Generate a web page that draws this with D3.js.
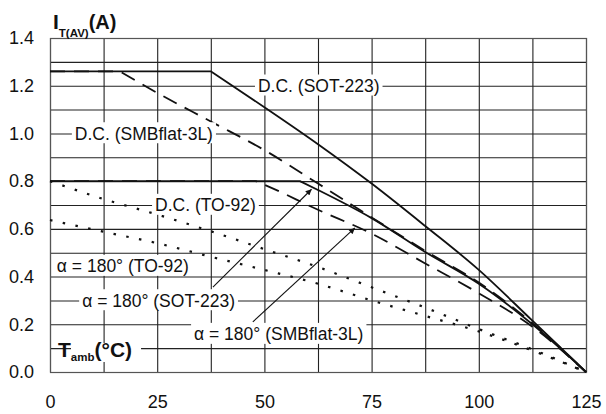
<!DOCTYPE html>
<html><head><meta charset="utf-8">
<script src="https://cdn.jsdelivr.net/npm/d3@7"></script>
<style>
body{margin:0;background:#fff}
svg{display:block}
text{font-family:"Liberation Sans",Arial,Helvetica,sans-serif;fill:#111}
</style>
</head><body>
<svg id="c" width="606" height="414"></svg>
<script>
// ---------- data ----------
const temps = [0, 12.5, 25, 37.5, 50, 62.5, 75, 87.5, 100, 112.5, 125];

const dcSot223X = [0, 37.5, 50, 62.5, 75, 87.5, 100, 112.5, 125];
const dcSot223Y = [1.26, 1.26, 1.11, 0.955, 0.79, 0.612, 0.428, 0.215, 0];

const dcSmbX = [0, 16.3, 25, 37.5, 50, 62.5, 75, 87.5, 100, 112.5, 125];
const dcSmbY = [1.26, 1.26, 1.17, 1.05, 0.93, 0.79, 0.648, 0.508, 0.375, 0.205, 0];

const dcTo92Y   = [0.80, 0.725, 0.66, 0.59, 0.515, 0.44, 0.355, 0.27, 0.18, 0.095, 0];
const a180To92Y = [0.637, 0.588, 0.54, 0.483, 0.428, 0.37, 0.30, 0.235, 0.17, 0.09, 0];

const a180SotX = [0, 58.3, 62.5, 75, 87.5, 100, 112.5, 125];
const a180SotY = [0.8, 0.8, 0.763, 0.645, 0.503, 0.37, 0.2, 0];

const a180SmbX = [0, 48, 50, 62.5, 75, 87.5, 100, 112.5, 125];
const a180SmbY = [0.8, 0.8, 0.785, 0.68, 0.58, 0.455, 0.33, 0.19, 0];

const xTickLabels = [0, 25, 50, 75, 100, 125];
const yTickLabels = [0, 0.2, 0.4, 0.6, 0.8, 1.0, 1.2, 1.4];
const xGridVals = d3.range(0, 125.001, 12.5);
const yGridVals = d3.range(0, 1.4001, 0.1);

// curve labels: text, left x (°C), cap-centre y (A)
const labelTexts = ["D.C. (SOT-223)", "D.C. (SMBflat-3L)", "D.C. (TO-92)",
                    "\u03B1 = 180\u00B0 (TO-92)", "\u03B1 = 180\u00B0 (SOT-223)", "\u03B1 = 180\u00B0 (SMBflat-3L)"];
const labelX = [48.5, 5.8, 24.5, 1.6, 7.5, 33.6];
const labelY = [1.2, 1.0, 0.7, 0.444, 0.3, 0.159];

// arrows: from (x,y) to (x,y) in data units
const arrowFromX = [38, 47.3];
const arrowFromY = [0.356, 0.21];
const arrowToX = [61.0, 71.1];
const arrowToY = [0.766, 0.604];

// ---------- chart ----------
const svg = d3.select("#c");
const x = d3.scaleLinear().domain([0, 125]).range([50, 586]);
const y = d3.scaleLinear().domain([0, 1.4]).range([372, 38]);
const W = x.range()[1] - x.range()[0];
const H = y.range()[0] - y.range()[1];

const defs = svg.append("defs");
defs.append("marker").attr("id", "ah").attr("viewBox", "0 0 10 10")
  .attr("refX", 10).attr("refY", 5).attr("markerWidth", 9).attr("markerHeight", 6)
  .attr("markerUnits", "userSpaceOnUse").attr("orient", "auto")
  .append("path").attr("d", "M0,0L10,5L0,10z").attr("fill", "#111");

// grid via axes
const gx = svg.append("g").attr("transform", `translate(0,${y(0)})`)
  .call(d3.axisBottom(x).tickValues(xGridVals).tickSize(-H).tickFormat(""));
const gy = svg.append("g").attr("transform", `translate(${x(0)},0)`)
  .call(d3.axisLeft(y).tickValues(yGridVals).tickSize(-W).tickFormat(""));
[gx, gy].forEach(g => {
  g.select(".domain").remove();
  g.selectAll("line").attr("stroke", "#222").attr("stroke-width", 1.1);
});
svg.append("rect").attr("x", x(0) + 0.5).attr("y", y(1.4) + 0.5)
  .attr("width", W).attr("height", H)
  .attr("fill", "none").attr("stroke", "#555").attr("stroke-width", 1.2);

// tick labels
const lx = svg.append("g").attr("transform", `translate(0,${y(0)})`)
  .call(d3.axisBottom(x).tickValues(xTickLabels).tickSize(0).tickPadding(23));
const ly = svg.append("g").attr("transform", `translate(${x(0)},0)`)
  .call(d3.axisLeft(y).tickValues(yTickLabels).tickSize(0).tickPadding(16).tickFormat(d3.format(".1f")));
[lx, ly].forEach(g => {
  g.select(".domain").remove();
  g.selectAll("text").attr("font-size", 18).attr("fill", "#111")
    .attr("font-family", "'Liberation Sans',Arial,sans-serif");
});

// series
const series = [
  {xs: dcSot223X, ys: dcSot223Y, dash: null, w: 1.8},
  {xs: a180SotX, ys: a180SotY, dash: null, w: 1.8},
  {xs: dcSmbX, ys: dcSmbY, dash: "15,9", w: 1.8},
  {xs: a180SmbX, ys: a180SmbY, dash: "15,9", w: 1.8},
  {xs: temps, ys: dcTo92Y, dash: "2.5,10.5", w: 2.2},
  {xs: temps, ys: a180To92Y, dash: "2.5,10.5", w: 2.2}
];
const lineFlat = d3.line().x(d => x(d[0])).y(d => y(d[1]));
const lineSmooth = d3.line().x(d => x(d[0])).y(d => y(d[1])).curve(d3.curveMonotoneX);
series.forEach(s => {
  const pts = s.xs.map((v, i) => [v, s.ys[i]]);
  // flat (clipped) part drawn straight, the descending part smoothed from the corner on
  let k = 0;
  while (k + 1 < pts.length && pts[k + 1][1] === pts[0][1]) k++;
  const path = (k > 0 ? lineFlat(pts.slice(0, k + 1)) : "") + lineSmooth(pts.slice(k)).replace(/^M[^A-Za-z]*/, m => k > 0 ? "L" + m.slice(1) : m);
  svg.append("path").attr("d", path).attr("fill", "none")
    .attr("stroke", "#111").attr("stroke-width", s.w)
    .attr("stroke-linejoin", "round")
    .attr("stroke-dasharray", s.dash);
});

// curve labels with white boxes
const FS = 17.5;
labelTexts.forEach((t, i) => {
  const g = svg.append("g");
  const base = y(labelY[i]) + 0.36 * FS;
  const txt = g.append("text").attr("x", x(labelX[i])).attr("y", base)
    .attr("font-size", FS).text(t);
  const bb = txt.node().getBBox();
  g.insert("rect", "text").attr("x", bb.x - 3).attr("y", base - 17.5)
    .attr("width", bb.width + 6).attr("height", 21).attr("fill", "#fff");
});

// arrows
arrowFromX.forEach((v, i) => {
  svg.append("line").attr("x1", x(v)).attr("y1", y(arrowFromY[i]))
    .attr("x2", x(arrowToX[i])).attr("y2", y(arrowToY[i]))
    .attr("stroke", "#111").attr("stroke-width", 1.1)
    .attr("marker-end", "url(#ah)");
});

// axis titles
const t1 = svg.append("text").attr("x", 53).attr("y", 28.5).attr("font-weight", "bold");
t1.append("tspan").attr("font-size", 21).text("I");
t1.append("tspan").attr("font-size", 11.5).attr("dy", 8).text("T(AV)");
t1.append("tspan").attr("font-size", 20).attr("dy", -8).text("(A)");

const tg = svg.append("g");
const t2 = tg.append("text").attr("x", 58).attr("y", 356.5).attr("font-weight", "bold");
t2.append("tspan").attr("font-size", 21).text("T");
t2.append("tspan").attr("font-size", 11.5).attr("dy", 4).text("amb");
t2.append("tspan").attr("font-size", 21).attr("dy", -4).text("(\u00B0C)");
const b2 = t2.node().getBBox();
tg.insert("rect", "text").attr("x", b2.x + 13).attr("y", 343)
  .attr("width", b2.width - 13 + 9).attr("height", 19).attr("fill", "#fff");
</script>
</body></html>
